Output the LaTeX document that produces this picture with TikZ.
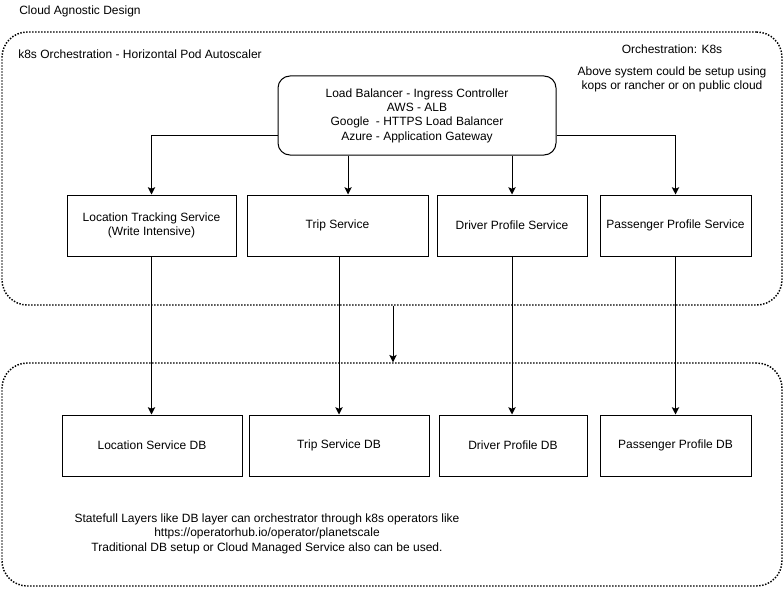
\documentclass[tikz,border=0pt]{standalone}
\usepackage{fontspec}
\setmainfont{Liberation Sans}
\usetikzlibrary{arrows.meta,calc}
\begin{document}
\begin{tikzpicture}[x=0.75pt,y=-0.75pt,
  font=\fontsize{9}{10.8}\selectfont,
  box/.style={draw,line width=0.75pt,align=center,inner sep=0pt,minimum height=45.75pt},
  container/.style={draw,line width=1.1pt,dash pattern=on 1.1pt off 1.15pt,rounded corners=19pt,inner sep=0pt,minimum width=585pt},
  arr/.style={line width=0.75pt,-{Stealth[length=5.5pt,width=5.5pt,inset=1.2pt]}},
  lbl/.style={inner sep=0pt,align=center}]
\useasboundingbox (0,0) rectangle (784,588);
% containers
\node[container,minimum height=204.75pt] (top) at (392,168.5) {};
\node[container,minimum height=167.25pt] (bot) at (392,474.5) {};
% labels
\node[lbl,anchor=west] (title) at (19,11) {Cloud Agnostic Design};
\node[lbl,anchor=west] (k8s) at (18,54) {k8s Orchestration - Horizontal Pod Autoscaler};
\node[lbl] (orch) at (672,49) {Orchestration: K8s};
\node[lbl] (above) at (672,79.5) {Above system could be setup using\\kops or rancher or on public cloud};
\node[lbl] (note) at (267,533.5) {Statefull Layers like DB layer can orchestrator through k8s operators like\\https://operatorhub.io/operator/planetscale\\Traditional DB setup or Cloud Managed Service also can be used.};
% load balancer
\node[box,rounded corners=9pt,minimum width=208.5pt,minimum height=59.25pt] (lb) at (417,115.5)
  {Load Balancer - Ingress Controller\\AWS - ALB\\Google\ \ - HTTPS Load Balancer\\Azure - Application Gateway};
% services
\node[box,minimum width=126.75pt] (loc) at (151.5,225.5) {Location Tracking Service\\(Write Intensive)};
\node[box,minimum width=135.75pt] (trip) at (337.5,225.5) {Trip Service};
\node[box,minimum width=112.5pt] (drv) at (512,225.5) {Driver Profile Service};
\node[box,minimum width=113.25pt] (pas) at (675.5,225.5) {Passenger Profile Service};
% databases
\node[box,minimum width=135pt] (locdb) at (152,445.5) {Location Service DB};
\node[box,minimum width=135pt] (tripdb) at (339,445.5) {Trip Service DB};
\node[box,minimum width=111pt] (drvdb) at (513,445.5) {Driver Profile DB};
\node[box,minimum width=113.25pt] (pasdb) at (675.5,445.5) {Passenger Profile DB};
% connectors from load balancer
\coordinate (lbl1) at ($(lb.south west)!0.25!(lb.north west)$);
\coordinate (lbr1) at ($(lb.south east)!0.25!(lb.north east)$);
\coordinate (tripin) at ([xshift=7.9pt]trip.north);
\draw[arr] (lbl1) -| (loc.north);
\draw[arr] (lbr1) -| (pas.north);
\draw[arr] (lb.south -| tripin) -- (tripin);
\draw[arr] (lb.south -| drv.north) -- (drv.north);
% services to databases
\draw[arr] (loc.south) -- (loc.south |- locdb.north);
\draw[arr] (tripdb.north |- trip.south) -- (tripdb.north);
\draw[arr] (drv.south) -- (drv.south |- drvdb.north);
\draw[arr] (pas.south) -- (pas.south |- pasdb.north);
% between containers
\draw[arr] ([xshift=0.75pt]top.south) -- ([xshift=0.75pt]bot.north);
\end{tikzpicture}
\end{document}
